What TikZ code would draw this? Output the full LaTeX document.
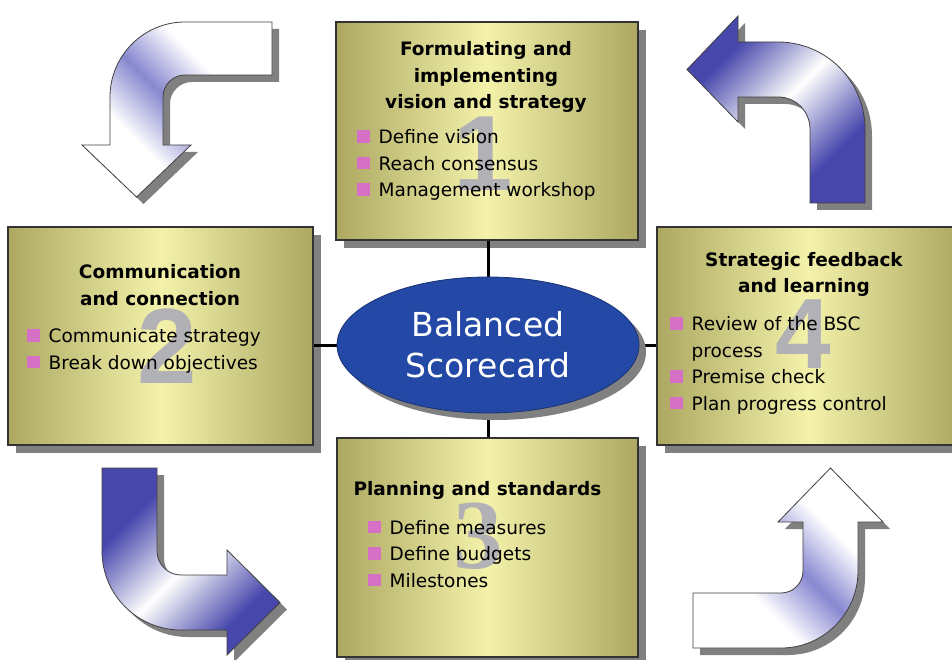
\documentclass[tikz,border=0pt]{standalone}
\usepackage{fontspec}
\setmainfont{DejaVu Sans}
\newfontfamily\numfont{Liberation Sans}
\newfontfamily\numserif{Liberation Serif}
\usetikzlibrary{shapes.geometric,shadows}
\definecolor{boxedge}{RGB}{172,168,98}
\definecolor{boxmid}{RGB}{243,241,170}
\definecolor{bpink}{RGB}{214,112,196}
\definecolor{ellblue}{RGB}{36,72,165}
\definecolor{arrblue}{RGB}{72,72,172}
\definecolor{arrlight}{RGB}{135,135,208}
\definecolor{numgrey}{RGB}{172,172,184}
\definecolor{shadowgrey}{RGB}{128,128,128}
\pgfdeclarehorizontalshading{bwb}{100bp}{color(0bp)=(arrblue); color(30bp)=(arrblue); color(50bp)=(white); color(70bp)=(arrblue); color(100bp)=(arrblue)}
\pgfdeclarehorizontalshading{wbw}{100bp}{color(0bp)=(white); color(36bp)=(white); color(50bp)=(arrlight); color(64bp)=(white); color(100bp)=(white)}
\newcommand{\bul}{{\color{bpink}\rule[1pt]{12.5pt}{12.5pt}}\hspace{9pt}}
\def\arrowA{(272,22) -- (185,22) .. controls (143.6,22) and (110,55.6) .. (110,97) -- (110,145) -- (82,145) -- (136.5,197) -- (191,145) -- (163,145) -- (163,97) .. controls (163,84.85) and (172.85,75) .. (185,75) -- (272,75) -- cycle}
\def\arrowB{(102,468) -- (157,468) -- (157,551) .. controls (157,564.25) and (167.75,575) .. (181,575) -- (227,575) -- (227,550) -- (280,602.5) -- (227,655) -- (227,630) -- (181,630) .. controls (137.4,630) and (102,594.6) .. (102,551) -- cycle}
\def\arrowC{(693,593) -- (781,593) .. controls (793.15,593) and (803,583.15) .. (803,571) -- (803,522) -- (778,522) -- (830.5,468) -- (883,522) -- (858,522) -- (858,571) .. controls (858,613.5) and (823.5,648) .. (781,648) -- (693,648) -- cycle}
\def\arrowD{(810,203) -- (810,129) .. controls (810,111.3) and (795.7,97) .. (778,97) -- (738,97) -- (738,122) -- (687,69.5) -- (738,16) -- (738,42) -- (778,42) .. controls (826,42) and (865,81) .. (865,129) -- (865,203) -- cycle}
\tikzset{
  box/.style={draw=black!80, line width=1.2pt, left color=boxedge, right color=boxedge, middle color=boxmid,
    drop shadow={shadow xshift=8pt, shadow yshift=-8pt, fill=shadowgrey, opacity=1}, inner sep=0pt},
  conn/.style={line width=3pt, black},
  bsc/.style={ellipse, fill=ellblue, draw=ellblue!70!black, line width=0.8pt, minimum width=302pt, minimum height=136pt,
    drop shadow={shadow xshift=7pt, shadow yshift=-7pt, fill=shadowgrey, opacity=1},
    text=white, align=center, inner sep=0pt, font=\fontsize{33}{41}\selectfont},
  numeral/.style={text=numgrey, opacity=0.9, inner sep=0pt},
  title/.style={align=center, inner sep=0pt, font=\bfseries\fontsize{18.5}{26.5}\selectfont},
  items/.style={align=left, anchor=west, inner sep=0pt, font=\fontsize{18.5}{26.5}\selectfont},
  arrshadow/.style={fill=shadowgrey},
  arrline/.style={draw=black!75, line width=0.8pt}
}
\begin{document}
\begin{tikzpicture}[x=1pt,y=-1pt]
\clip (0,0) rectangle (952,660);
\fill[white] (0,0) rectangle (952,660);
% curved arrows
\fill[arrshadow, shift={(7,7)}] \arrowA;
\shadedraw[arrline, shading=wbw, shading angle=45] \arrowA;
\fill[arrshadow, shift={(7,7)}] \arrowB;
\shadedraw[arrline, shading=bwb, shading angle=-45] \arrowB;
\fill[arrshadow, shift={(7,7)}] \arrowC;
\shadedraw[arrline, shading=wbw, shading angle=45] \arrowC;
\fill[arrshadow, shift={(7,7)}] \arrowD;
\shadedraw[arrline, shading=bwb, shading angle=-45] \arrowD;
% boxes
\node[box, minimum width=302pt, minimum height=218pt] (b1) at (487,131) {};
\node[box, minimum width=305pt, minimum height=218pt] (b2) at (160.5,336) {};
\node[box, minimum width=302pt, minimum height=218pt] (b4) at (808,336) {};
\node[box, minimum width=301pt, minimum height=219pt] (b3) at (487.5,547.5) {};
% connectors and centre
\coordinate (ctr) at (488,345);
\draw[conn] (b1.south -| ctr) -- (b3.north -| ctr);
\draw[conn] (b2.east |- ctr) -- (b4.west |- ctr);
\node[bsc] (bsc) at (ctr) {Balanced\\Scorecard};
% numerals
\node[numeral, font=\numfont\bfseries\fontsize{107}{107}\selectfont] (n1) at (483,153.5) {1};
\node[numeral, font=\numfont\bfseries\fontsize{107}{107}\selectfont] (n2) at (167,346.5) {2};
\node[numeral, font=\numserif\bfseries\fontsize{99}{99}\selectfont] (n3) at (478,536.5) {3};
\node[numeral, font=\numfont\bfseries\fontsize{100}{100}\selectfont] (n4) at (803,334) {4};
% titles
\node[title] (h1) at (486,77) {Formulating and\\implementing\\vision and strategy};
\node[title] (h2) at (160,285) {Communication\\and connection};
\node[title] (h4) at (804,274.5) {Strategic feedback\\and learning};
\node[title] (h3) at (477.5,490.5) {Planning and standards};
% bullet lists
\node[items] (l1) at (357,165) {\bul Define vision\\\bul Reach consensus\\\bul Management workshop};
\node[items] (l2) at (27,351) {\bul Communicate strategy\\\bul Break down objectives};
\node[items] (l4) at (670,365.5) {\bul Review of the BSC\\\hspace*{21.5pt}process\\\bul Premise check\\\bul Plan progress control};
\node[items] (l3) at (368,554) {\bul Define measures\\\bul Define budgets\\\bul Milestones};
\end{tikzpicture}
\end{document}
